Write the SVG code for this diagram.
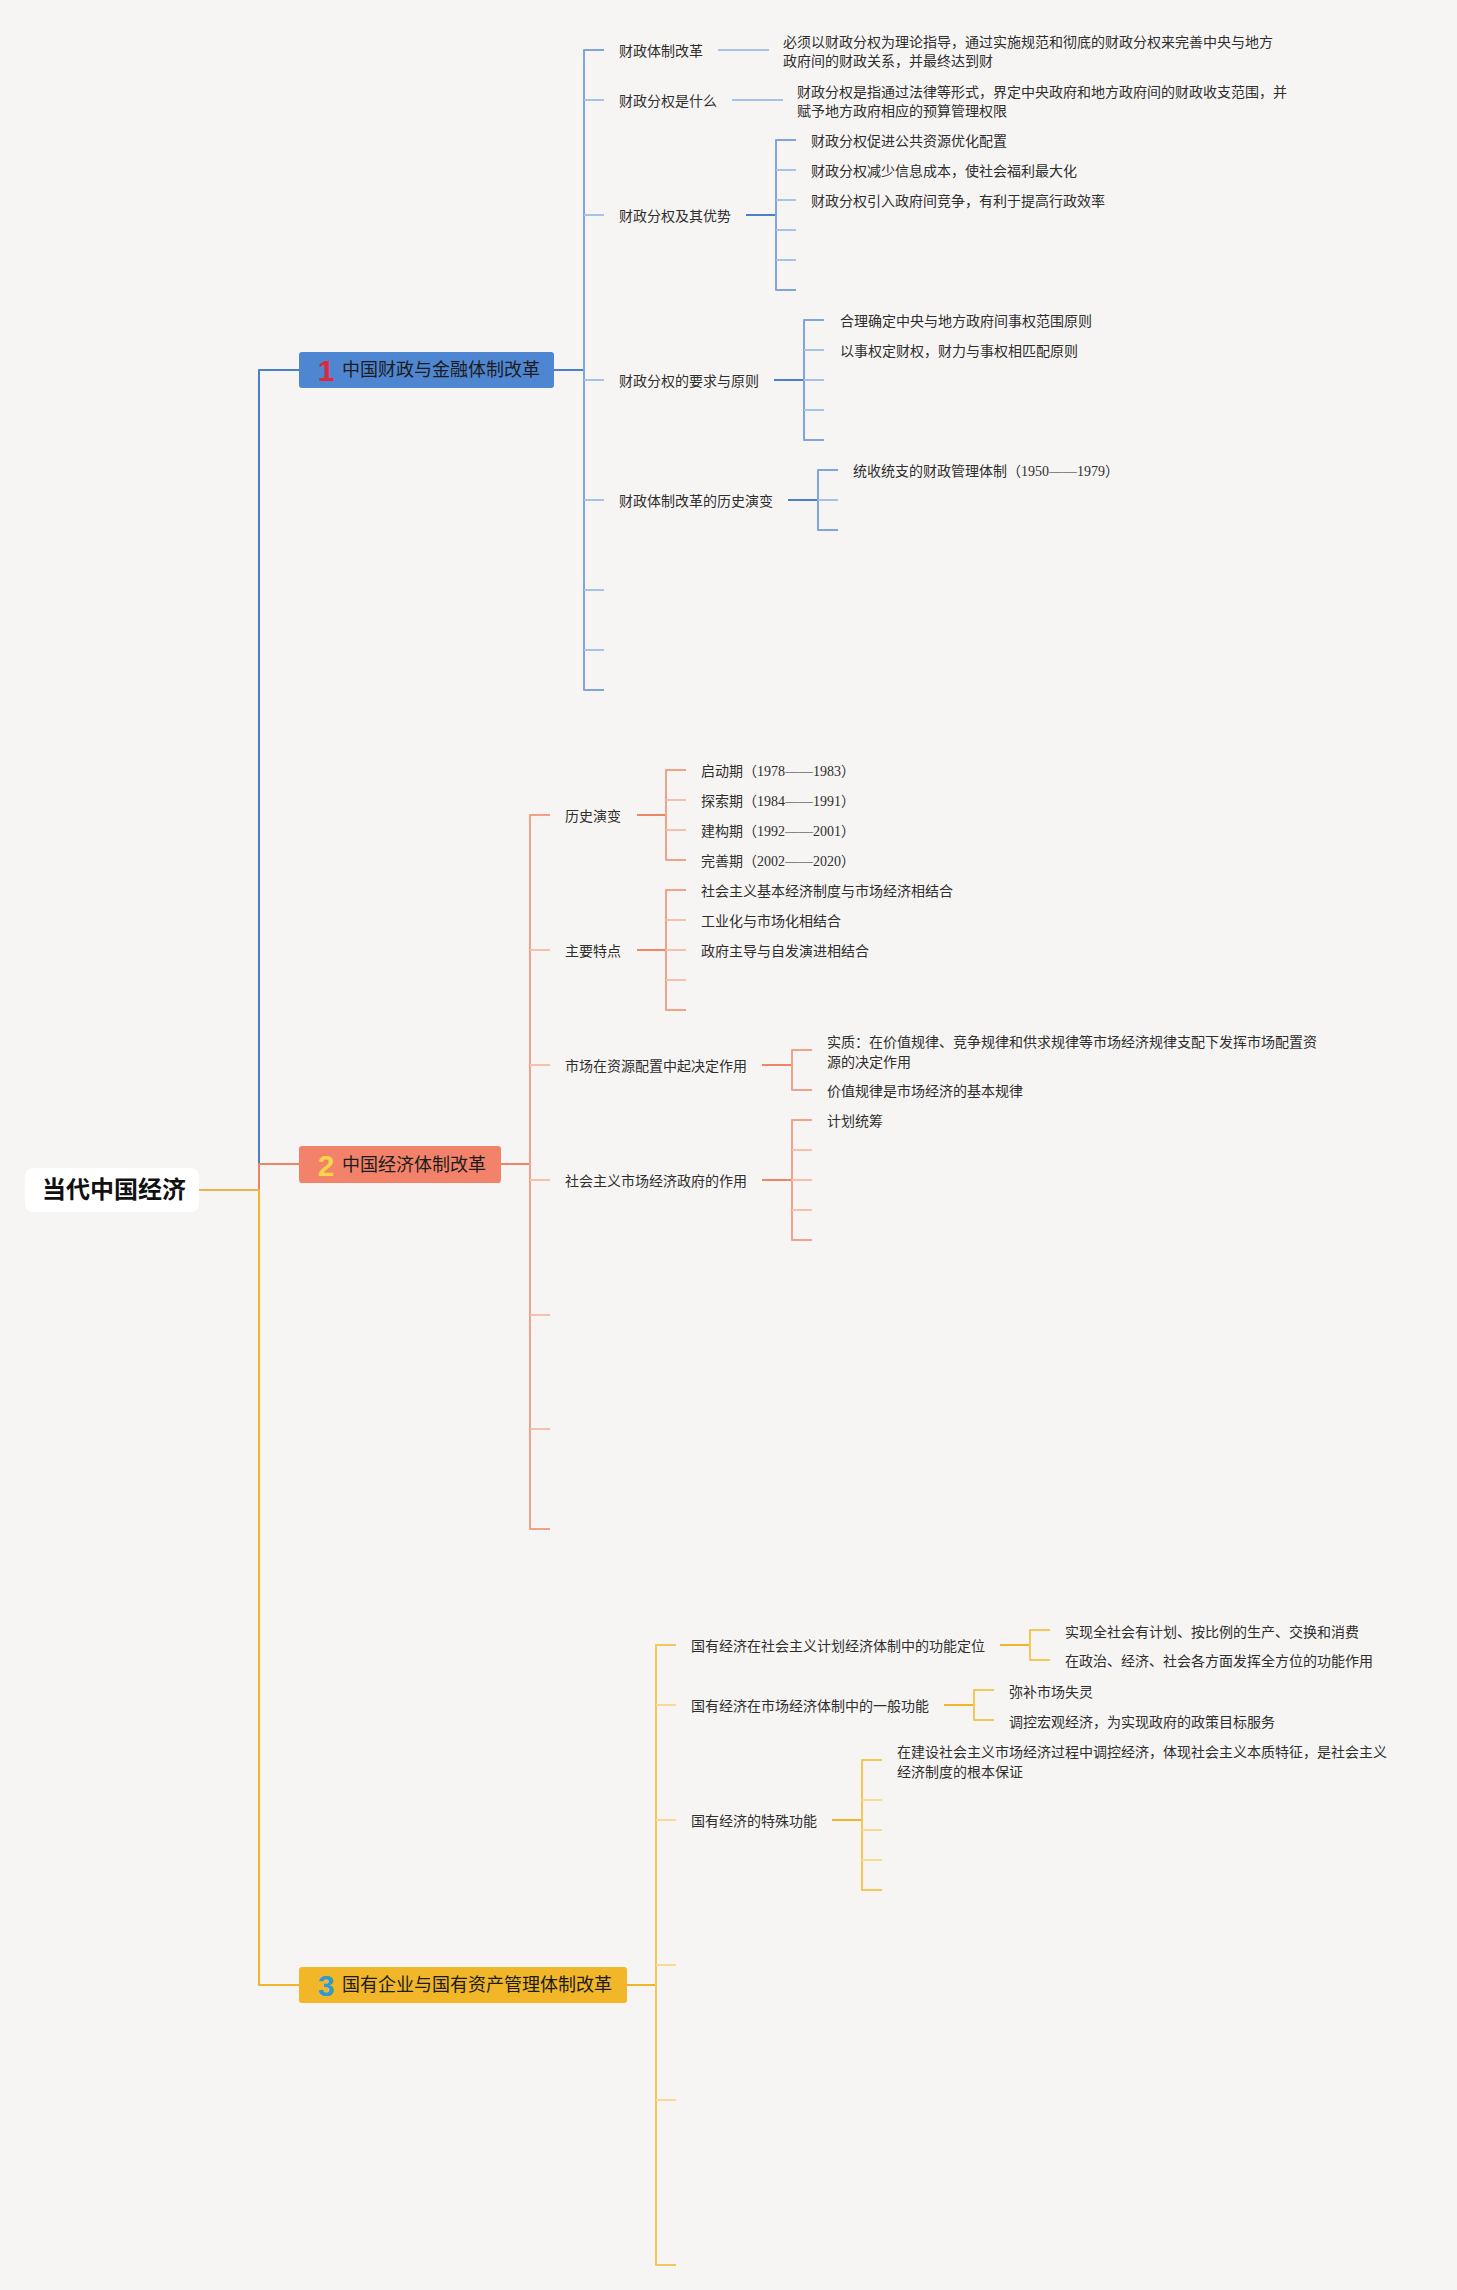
<svg xmlns="http://www.w3.org/2000/svg" width="1457" height="2290" viewBox="0 0 1457 2290">
<style>
text{font-family:"Noto Sans CJK SC","Noto Sans",sans-serif;fill:#2e2e2e;font-size:14px}
.ser{font-family:"Liberation Serif","Noto Sans CJK SC",serif}
.t{font-size:18px;fill:#1c1c1c}
.num{font-family:"Liberation Sans",sans-serif;font-weight:bold;font-size:30px;text-anchor:middle}
.root{font-size:24px;font-weight:bold;fill:#111}
path,line{fill:none;stroke-width:2;stroke-linejoin:round}
.bd{stroke:#4a7fcc}.bm{stroke:#7ea5dc}.bl{stroke:#a9c3e8}
.od{stroke:#ee8565}.om{stroke:#f2a288}.ol{stroke:#f6c0ac}
.yd{stroke:#f0b52a}.ym{stroke:#f3c85a}.yl{stroke:#f7db92}
</style>
<rect width="1457" height="2290" fill="#f6f5f3"/>
<g id="connectors">
<path class="bd" d="M259,1190 V370 H299"/>
<path class="yd" d="M259,1190 V1985 H299"/>
<path class="od" d="M259,1190 V1164 H299"/>
<path d="M199,1190 H259" stroke="#f2b24a" stroke-width="3"/>
<!-- branch 1 -->
<path class="bd" d="M554,370 H584"/>
<path class="bm" d="M604,50 H584 V690 H604"/>
<path class="bl" d="M584,100 H604 M584,215 H604 M584,380 H604 M584,500 H604 M584,590 H604 M584,650 H604"/>
<path class="bl" d="M718,50 H769 M732,100 H783"/>
<path class="bd" d="M746,215 H776 M774,380 H804 M788,500 H818"/>
<path class="bm" d="M796,140 H776 V290 H796 M824,320 H804 V440 H824 M838,470 H818 V530 H838"/>
<path class="bl" d="M776,170 H796 M776,200 H796 M776,230 H796 M776,260 H796 M804,350 H824 M804,380 H824 M804,410 H824 M818,500 H838"/>
<!-- branch 2 -->
<path class="od" d="M501,1164 H530"/>
<path class="om" d="M550,815 H530 V1529 H550"/>
<path class="ol" d="M530,950 H550 M530,1065 H550 M530,1180 H550 M530,1315 H550 M530,1429 H550"/>
<path class="od" d="M637,815 H666 M637,950 H666 M762,1065 H792 M762,1180 H792"/>
<path class="om" d="M686,770 H666 V860 H686 M686,890 H666 V1010 H686 M812,1050 H792 V1090 H812 M812,1120 H792 V1240 H812"/>
<path class="ol" d="M666,800 H686 M666,830 H686 M666,920 H686 M666,950 H686 M666,980 H686 M792,1150 H812 M792,1180 H812 M792,1210 H812"/>
<!-- branch 3 -->
<path class="yd" d="M627,1985 H656"/>
<path class="ym" d="M676,1645 H656 V2265 H676"/>
<path class="yl" d="M656,1705 H676 M656,1820 H676 M656,1965 H676 M656,2100 H676"/>
<path class="yd" d="M1000,1645 H1030 M944,1705 H974 M832,1820 H862"/>
<path class="ym" d="M1050,1630 H1030 V1660 H1050 M994,1690 H974 V1720 H994 M882,1760 H862 V1890 H882"/>
<path class="yl" d="M862,1800 H882 M862,1830 H882 M862,1860 H882"/>
</g>
<g id="root">
<rect x="25" y="1168" width="174" height="44" rx="8" fill="#ffffff"/>
<text class="root" x="42" y="1198">当代中国经济</text>
</g>
<g id="b1">
<rect x="299" y="352" width="255" height="36" rx="3" fill="#4f86d2"/>
<text class="num" x="326" y="381" fill="#e0283c" style="fill:#e0283c">1</text>
<text class="t" x="342" y="376">中国财政与金融体制改革</text>
</g>
<g id="b2">
<rect x="299" y="1146" width="202" height="37" rx="3" fill="#f2836a"/>
<text class="num" x="326" y="1176" style="fill:#f7d54a">2</text>
<text class="t" x="342" y="1171">中国经济体制改革</text>
</g>
<g id="b3">
<rect x="299" y="1967" width="328" height="36" rx="3" fill="#f1b728"/>
<text class="num" x="326" y="1996" style="fill:#2a9bd8">3</text>
<text class="t" x="342" y="1991">国有企业与国有资产管理体制改革</text>
</g>
<g id="b1-children">
<text x="619" y="56">财政体制改革</text>
<text x="783" y="47">必须以财政分权为理论指导，通过实施规范和彻底的财政分权来完善中央与地方</text>
<text x="783" y="66">政府间的财政关系，并最终达到财</text>
<text x="619" y="106">财政分权是什么</text>
<text x="797" y="97">财政分权是指通过法律等形式，界定中央政府和地方政府间的财政收支范围，并</text>
<text x="797" y="116">赋予地方政府相应的预算管理权限</text>
<text x="619" y="221">财政分权及其优势</text>
<text x="811" y="146">财政分权促进公共资源优化配置</text>
<text x="811" y="176">财政分权减少信息成本，使社会福利最大化</text>
<text x="811" y="206">财政分权引入政府间竞争，有利于提高行政效率</text>
<text x="619" y="386">财政分权的要求与原则</text>
<text x="840" y="326">合理确定中央与地方政府间事权范围原则</text>
<text x="840" y="356">以事权定财权，财力与事权相匹配原则</text>
<text x="619" y="506">财政体制改革的历史演变</text>
<text x="853" y="476">统收统支的财政管理体制（<tspan class="ser">1950——1979</tspan>）</text>
</g>
<g id="b2-children">
<text x="565" y="821">历史演变</text>
<text x="701" y="776">启动期（<tspan class="ser">1978——1983</tspan>）</text>
<text x="701" y="806">探索期（<tspan class="ser">1984——1991</tspan>）</text>
<text x="701" y="836">建构期（<tspan class="ser">1992——2001</tspan>）</text>
<text x="701" y="866">完善期（<tspan class="ser">2002——2020</tspan>）</text>
<text x="565" y="956">主要特点</text>
<text x="701" y="896">社会主义基本经济制度与市场经济相结合</text>
<text x="701" y="926">工业化与市场化相结合</text>
<text x="701" y="956">政府主导与自发演进相结合</text>
<text x="565" y="1071">市场在资源配置中起决定作用</text>
<text x="827" y="1047">实质：在价值规律、竞争规律和供求规律等市场经济规律支配下发挥市场配置资</text>
<text x="827" y="1067">源的决定作用</text>
<text x="827" y="1096">价值规律是市场经济的基本规律</text>
<text x="565" y="1186">社会主义市场经济政府的作用</text>
<text x="827" y="1126">计划统筹</text>
</g>
<g id="b3-children">
<text x="691" y="1651">国有经济在社会主义计划经济体制中的功能定位</text>
<text x="1065" y="1637">实现全社会有计划、按比例的生产、交换和消费</text>
<text x="1065" y="1666">在政治、经济、社会各方面发挥全方位的功能作用</text>
<text x="691" y="1711">国有经济在市场经济体制中的一般功能</text>
<text x="1009" y="1697">弥补市场失灵</text>
<text x="1009" y="1727">调控宏观经济，为实现政府的政策目标服务</text>
<text x="691" y="1826">国有经济的特殊功能</text>
<text x="897" y="1757">在建设社会主义市场经济过程中调控经济，体现社会主义本质特征，是社会主义</text>
<text x="897" y="1777">经济制度的根本保证</text>
</g>
</svg>
